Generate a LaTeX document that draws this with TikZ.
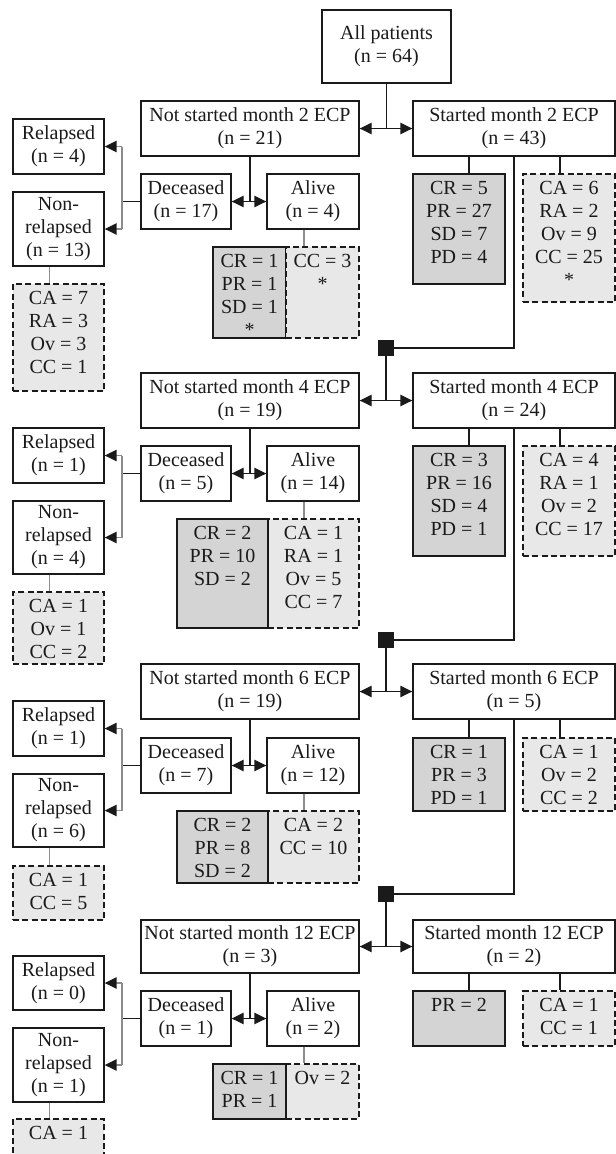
\documentclass[tikz,border=0pt]{standalone}
\usepackage{fontspec}
\setmainfont{Liberation Serif}
\usetikzlibrary{arrows.meta,calc}
\definecolor{ink}{HTML}{1A1A1A}
\definecolor{gfill}{HTML}{D4D4D4}
\definecolor{dfill}{HTML}{E8E8E8}
\definecolor{gline}{HTML}{8C8C8C}
\tikzset{
  base/.style={font=\fontsize{15pt}{17.25pt}\selectfont, align=center, inner sep=0pt, text=ink},
  wbox/.style={base, draw=ink, line width=1pt, fill=white},
  gbox/.style={base, draw=ink, line width=1pt, fill=gfill},
  dbox/.style={base, draw=ink, line width=1pt, fill=dfill, dash pattern=on 4.5pt off 2.5pt},
  txt/.style={base, anchor=north, yshift=-5.6pt},
  conn/.style={draw=ink, line width=1pt},
  gconn/.style={draw=gline, line width=0.9pt},
  brk/.style={draw=gline, line width=1.3pt},
  arr/.style={-{Triangle[length=9pt,width=8.5pt]}},
  garr/.style={-{Triangle[length=9pt,width=8.5pt,color=ink,fill=ink]}},
  sq/.style={fill=ink, minimum size=12pt, inner sep=0pt},
}
\newcommand\boxat[7]{%
  \node[#1, minimum width={(#5-#3)*0.75pt}, minimum height={(#6-#4)*0.75pt}] (#2) at ({(#3+#5)/2},{(#4+#6)/2}) {#7};}
\begin{document}
\begin{tikzpicture}[x=0.75pt, y=-0.75pt]
\useasboundingbox (0,0) rectangle (616,1154);
\clip (0,0) rectangle (616,1154);
\coordinate (kx) at (122,0);
% ---------------- month 2 ----------------
\boxat{wbox}{all}{322}{10}{451}{83}{All patients\\(n = 64)}
\boxat{wbox}{ns2}{141}{101}{359}{156}{Not started month 2 ECP\\(n = 21)}
\boxat{wbox}{s2}{413}{101}{615}{156}{Started month 2 ECP\\(n = 43)}
\boxat{wbox}{rel2}{13}{119}{104}{174}{Relapsed\\(n = 4)}
\boxat{wbox}{dec2}{141}{174}{231}{229}{Deceased\\(n = 17)}
\boxat{wbox}{alv2}{267}{174}{359}{229}{Alive\\(n = 4)}
\boxat{wbox}{nrel2}{13}{192}{104}{266}{Non-\\relapsed\\(n = 13)}
\boxat{dbox}{nrd2}{13}{284}{104}{391}{}
\node[txt] (tnrd2) at (nrd2.north) {CA = 7\\RA = 3\\Ov = 3\\CC = 1};
\boxat{gbox}{alg2}{213}{247}{286}{338}{}
\node[txt] (talg2) at (alg2.north) {CR = 1\\PR = 1\\SD = 1\\*};
\boxat{dbox}{ald2}{286}{247}{359}{338}{}
\node[txt] (tald2) at (ald2.north) {CC = 3\\*};
\boxat{gbox}{sg2}{413}{174}{505}{284}{}
\node[txt] (tsg2) at (sg2.north) {CR = 5\\PR = 27\\SD = 7\\PD = 4};
\boxat{dbox}{sd2}{523}{174}{615}{302}{}
\node[txt] (tsd2) at (sd2.north) {CA = 6\\RA = 2\\Ov = 9\\CC = 25\\*};
\coordinate (j2) at (all.south |- ns2.east);
\draw[conn] (all.south) -- (j2);
\draw[conn,arr] (j2) -- (ns2.east);
\draw[conn,arr] (j2) -- (s2.west);
\coordinate (d2) at (ns2.south |- dec2.east);
\draw[conn] (ns2.south) -- (d2);
\draw[conn,arr] (d2) -- (dec2.east);
\draw[conn,arr] (d2) -- (alv2.west);
\draw[conn] (dec2.west) -- (kx |- dec2.west);
\draw[brk] (kx |- rel2.east) -- (kx |- nrel2.east);
\draw[brk,garr] (kx |- rel2.east) -- (rel2.east);
\draw[brk,garr] (kx |- nrel2.east) -- (nrel2.east);
\coordinate (n2) at ($(nrel2.south)+(-9,0)$);
\draw[gconn] (n2) -- (n2 |- nrd2.north);
\coordinate (a2) at ($(alv2.south)+(-9,0)$);
\draw[gconn] (a2) -- (a2 |- ald2.north);
\coordinate (p2) at ($(s2.south)+(-45,0)$);
\draw[conn] (p2) -- (p2 |- sg2.north);
\coordinate (q2) at ($(s2.south)+(46,0)$);
\draw[conn] (q2) -- (q2 |- sd2.north);
% ---------------- month 4 ----------------
\node[sq] (sq4) at (386,348) {};
\draw[conn] (s2.south) |- (sq4.east);
\boxat{wbox}{ns4}{141}{373}{359}{428}{Not started month 4 ECP\\(n = 19)}
\boxat{wbox}{s4}{413}{373}{615}{428}{Started month 4 ECP\\(n = 24)}
\boxat{wbox}{rel4}{13}{428}{104}{483}{Relapsed\\(n = 1)}
\boxat{wbox}{dec4}{141}{446}{231}{501}{Deceased\\(n = 5)}
\boxat{wbox}{alv4}{267}{446}{359}{501}{Alive\\(n = 14)}
\boxat{wbox}{nrel4}{13}{501}{104}{574}{Non-\\relapsed\\(n = 4)}
\boxat{dbox}{nrd4}{13}{592}{104}{664}{}
\node[txt] (tnrd4) at (nrd4.north) {CA = 1\\Ov = 1\\CC = 2};
\boxat{dbox}{ald4}{268}{519}{359}{628}{}
\node[txt] (tald4) at (ald4.north) {CA = 1\\RA = 1\\Ov = 5\\CC = 7};
\boxat{gbox}{alg4}{177}{519}{268}{628}{}
\node[txt] (talg4) at (alg4.north) {CR = 2\\PR = 10\\SD = 2};
\boxat{gbox}{sg4}{413}{446}{505}{556}{}
\node[txt] (tsg4) at (sg4.north) {CR = 3\\PR = 16\\SD = 4\\PD = 1};
\boxat{dbox}{sd4}{523}{446}{615}{556}{}
\node[txt] (tsd4) at (sd4.north) {CA = 4\\RA = 1\\Ov = 2\\CC = 17};
\coordinate (j4) at (sq4.south |- ns4.east);
\draw[conn] (sq4.south) -- (j4);
\draw[conn,arr] (j4) -- (ns4.east);
\draw[conn,arr] (j4) -- (s4.west);
\coordinate (d4) at (ns4.south |- dec4.east);
\draw[conn] (ns4.south) -- (d4);
\draw[conn,arr] (d4) -- (dec4.east);
\draw[conn,arr] (d4) -- (alv4.west);
\draw[conn] (dec4.west) -- (kx |- dec4.west);
\draw[brk] (kx |- rel4.east) -- (kx |- nrel4.east);
\draw[brk,garr] (kx |- rel4.east) -- (rel4.east);
\draw[brk,garr] (kx |- nrel4.east) -- (nrel4.east);
\coordinate (n4) at ($(nrel4.south)+(-9,0)$);
\draw[gconn] (n4) -- (n4 |- nrd4.north);
\coordinate (a4) at ($(alv4.south)+(-9,0)$);
\draw[gconn] (a4) -- (a4 |- ald4.north);
\coordinate (p4) at ($(s4.south)+(-45,0)$);
\draw[conn] (p4) -- (p4 |- sg4.north);
\coordinate (q4) at ($(s4.south)+(46,0)$);
\draw[conn] (q4) -- (q4 |- sd4.north);
% ---------------- month 6 ----------------
\node[sq] (sq6) at (386,640) {};
\draw[conn] (s4.south) |- (sq6.east);
\boxat{wbox}{ns6}{141}{664}{359}{719}{Not started month 6 ECP\\(n = 19)}
\boxat{wbox}{s6}{413}{664}{615}{719}{Started month 6 ECP\\(n = 5)}
\boxat{wbox}{rel6}{13}{701}{104}{756}{Relapsed\\(n = 1)}
\boxat{wbox}{dec6}{141}{738}{231}{793}{Deceased\\(n = 7)}
\boxat{wbox}{alv6}{267}{738}{359}{793}{Alive\\(n = 12)}
\boxat{wbox}{nrel6}{13}{774}{104}{847}{Non-\\relapsed\\(n = 6)}
\boxat{dbox}{nrd6}{13}{866}{104}{920}{}
\node[txt] (tnrd6) at (nrd6.north) {CA = 1\\CC = 5};
\boxat{dbox}{ald6}{268}{811}{359}{883}{}
\node[txt] (tald6) at (ald6.north) {CA = 2\\CC = 10};
\boxat{gbox}{alg6}{177}{811}{268}{883}{}
\node[txt] (talg6) at (alg6.north) {CR = 2\\PR = 8\\SD = 2};
\boxat{gbox}{sg6}{413}{738}{505}{811}{}
\node[txt] (tsg6) at (sg6.north) {CR = 1\\PR = 3\\PD = 1};
\boxat{dbox}{sd6}{523}{738}{615}{811}{}
\node[txt] (tsd6) at (sd6.north) {CA = 1\\Ov = 2\\CC = 2};
\coordinate (j6) at (sq6.south |- ns6.east);
\draw[conn] (sq6.south) -- (j6);
\draw[conn,arr] (j6) -- (ns6.east);
\draw[conn,arr] (j6) -- (s6.west);
\coordinate (d6) at (ns6.south |- dec6.east);
\draw[conn] (ns6.south) -- (d6);
\draw[conn,arr] (d6) -- (dec6.east);
\draw[conn,arr] (d6) -- (alv6.west);
\draw[conn] (dec6.west) -- (kx |- dec6.west);
\draw[brk] (kx |- rel6.east) -- (kx |- nrel6.east);
\draw[brk,garr] (kx |- rel6.east) -- (rel6.east);
\draw[brk,garr] (kx |- nrel6.east) -- (nrel6.east);
\coordinate (n6) at ($(nrel6.south)+(-9,0)$);
\draw[gconn] (n6) -- (n6 |- nrd6.north);
\coordinate (a6) at ($(alv6.south)+(-9,0)$);
\draw[gconn] (a6) -- (a6 |- ald6.north);
\coordinate (p6) at ($(s6.south)+(-45,0)$);
\draw[conn] (p6) -- (p6 |- sg6.north);
\coordinate (q6) at ($(s6.south)+(46,0)$);
\draw[conn] (q6) -- (q6 |- sd6.north);
% ---------------- month 12 ----------------
\node[sq] (sq12) at (386,894) {};
\draw[conn] (s6.south) |- (sq12.east);
\boxat{wbox}{ns12}{141}{920}{359}{973}{Not started month 12 ECP\\(n = 3)}
\boxat{wbox}{s12}{413}{920}{615}{973}{Started month 12 ECP\\(n = 2)}
\boxat{wbox}{rel12}{13}{956}{104}{1010}{Relapsed\\(n = 0)}
\boxat{wbox}{dec12}{141}{991}{231}{1046}{Deceased\\(n = 1)}
\boxat{wbox}{alv12}{267}{991}{359}{1046}{Alive\\(n = 2)}
\boxat{wbox}{nrel12}{13}{1028}{104}{1102}{Non-\\relapsed\\(n = 1)}
\boxat{dbox}{nrd12}{13}{1119}{104}{1170}{}
\node[txt] (tnrd12) at (nrd12.north) {CA = 1};
\boxat{dbox}{ald12}{286}{1064}{359}{1119}{}
\node[txt] (tald12) at (ald12.north) {Ov = 2};
\boxat{gbox}{alg12}{213}{1064}{286}{1119}{}
\node[txt] (talg12) at (alg12.north) {CR = 1\\PR = 1};
\boxat{gbox}{sg12}{413}{991}{505}{1046}{}
\node[txt] (tsg12) at (sg12.north) {PR = 2};
\boxat{dbox}{sd12}{523}{991}{615}{1046}{}
\node[txt] (tsd12) at (sd12.north) {CA = 1\\CC = 1};
\coordinate (j12) at (sq12.south |- ns12.east);
\draw[conn] (sq12.south) -- (j12);
\draw[conn,arr] (j12) -- (ns12.east);
\draw[conn,arr] (j12) -- (s12.west);
\coordinate (d12) at (ns12.south |- dec12.east);
\draw[conn] (ns12.south) -- (d12);
\draw[conn,arr] (d12) -- (dec12.east);
\draw[conn,arr] (d12) -- (alv12.west);
\draw[conn] (dec12.west) -- (kx |- dec12.west);
\draw[brk] (kx |- rel12.east) -- (kx |- nrel12.east);
\draw[brk,garr] (kx |- rel12.east) -- (rel12.east);
\draw[brk,garr] (kx |- nrel12.east) -- (nrel12.east);
\coordinate (n12) at ($(nrel12.south)+(-9,0)$);
\draw[gconn] (n12) -- (n12 |- nrd12.north);
\coordinate (a12) at ($(alv12.south)+(-9,0)$);
\draw[gconn] (a12) -- (a12 |- ald12.north);
\coordinate (p12) at ($(s12.south)+(-45,0)$);
\draw[conn] (p12) -- (p12 |- sg12.north);
\coordinate (q12) at ($(s12.south)+(46,0)$);
\draw[conn] (q12) -- (q12 |- sd12.north);
\end{tikzpicture}
\end{document}
